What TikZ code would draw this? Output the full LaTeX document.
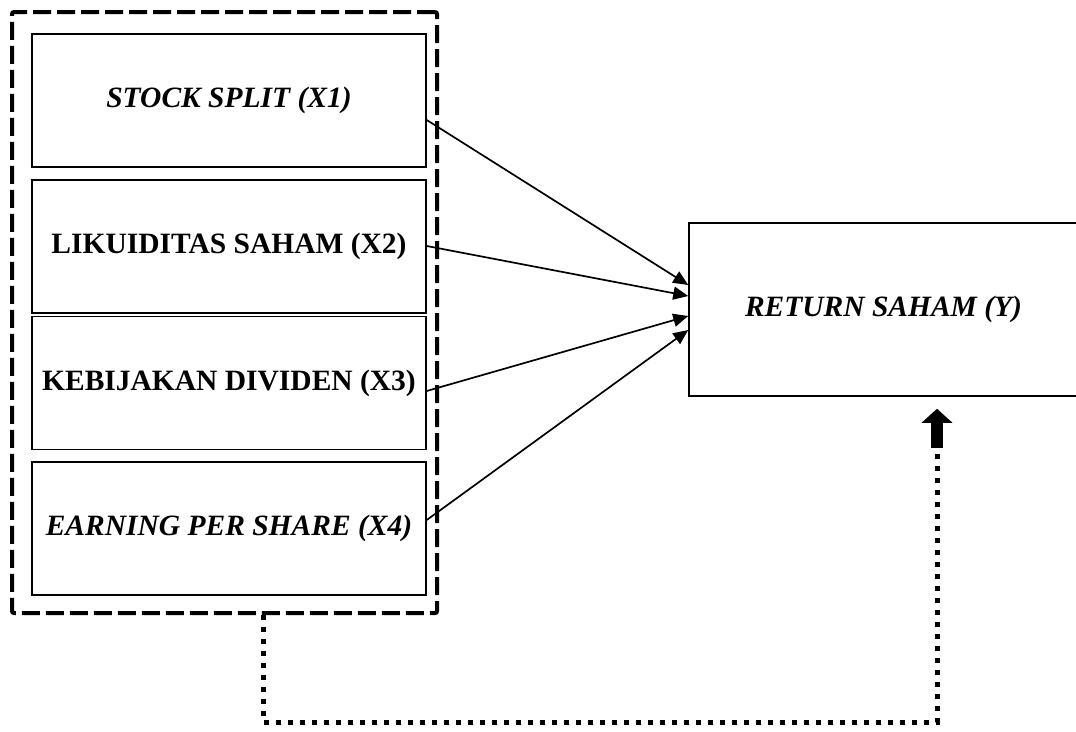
\documentclass[tikz,border=0pt]{standalone}
\usepackage{fontspec}
\setmainfont{Liberation Serif}
\usetikzlibrary{arrows.meta,calc}

\def\boxw{394pt}
\def\boxh{133pt}

\begin{document}
\begin{tikzpicture}[x=1pt,y=-1pt,line width=1.5pt,font=\fontsize{29.5}{34}\selectfont\bfseries]
    \tikzstyle{var}=[draw,minimum width=\boxw,minimum height=\boxh,inner sep=0pt]
    \tikzstyle{link}=[-{Triangle[length=15pt,width=13pt]},line width=1.7pt]
    \tikzstyle{grpbox}=[draw,line width=4pt,dash pattern=on 18pt off 6pt,rounded corners=2pt,minimum width=425pt,minimum height=601pt,inner sep=0pt]
    \tikzstyle{dotline}=[line width=5pt,dash pattern=on 5pt off 7pt]
    \tikzstyle{bigarrow}=[line width=12pt,-{Triangle[length=14pt,width=30pt]}]

    \clip (0,0) rectangle (1076,731);

    % Draw the frame round the independent variables
    \node[grpbox] (grp) at (224.5,312.5) {};

    % Draw the independent variables
    \node[var] (X1) at (229,100.5) {\textit{STOCK SPLIT (X1)}};
    \node[var] (X2) at (229,246.5) {LIKUIDITAS SAHAM (X2)};
    \node[var] (X3) at (229,383) {KEBIJAKAN DIVIDEN (X3)};
    \node[var] (X4) at (229,528.5) {\textit{EARNING PER SHARE (X4)}};

    % Draw the dependent variable
    \node[draw,minimum width=389pt,minimum height=173pt,inner sep=0pt] (Y) at (883.5,309.5) {\textit{RETURN SAHAM (Y)}};

    % Connect every variable with Y
    \foreach \name / \dy / \ty in {1/19.5/-24.5, 2/-0.5/-13.5, 3/8/6.5, 4/-8.5/20.5}
        \draw[link] ($(X\name.east)+(0,\dy)$) -- ($(Y.west)+(0,\ty)$);

    % Joint effect of the frame on Y
    \coordinate (s) at ($(grp.south)+(38.5,0)$);
    \coordinate (t) at (937,448);
    \draw[dotline] (s) -- ++(0,107) -| (t);
    \draw[bigarrow] (t) -- ($(Y.south -| t)+(0,12)$);
\end{tikzpicture}
\end{document}
